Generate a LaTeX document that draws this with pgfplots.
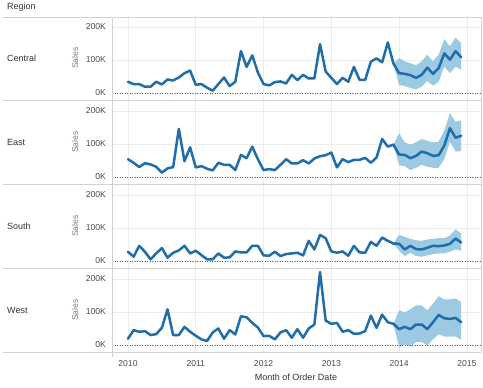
\documentclass[border=0pt]{standalone}
\usepackage{pgfplots}
\pgfplotsset{compat=1.18}
\usepackage{pgfplotstable}
\usepgfplotslibrary{fillbetween}
\usepackage{fontspec}
\setmainfont{Liberation Sans}
\definecolor{tblue}{HTML}{1F6DAB}
\definecolor{tband}{HTML}{9DCAE3}
\definecolor{gridc}{HTML}{ECECEC}
\definecolor{sepc}{HTML}{D2D2D2}
\definecolor{txt}{HTML}{333333}
\definecolor{tick}{HTML}{4A4A4A}

% actual monthly sales (K), month 0 = Jan 2010
\pgfplotstableread{
m s
0 34
1 27
2 27
3 19
4 19
5 34
6 26
7 41
8 38
9 47
10 60
11 68
12 25
13 27
14 16
15 7
16 27
17 47
18 21
19 34
20 127
21 79
22 114
23 62
24 27
25 23
26 33
27 35
28 29
29 55
30 39
31 55
32 44
33 44
34 148
35 65
36 46
37 27
38 46
39 34
40 79
41 40
42 40
43 95
44 105
45 93
46 153
47 89
}\central
\pgfplotstableread{
m f lo hi
47 89 89 89
48 60 24 106
49 58 21 96
50 54 15 90
51 46 11 84
52 55 19 96
53 77 36 116
54 58 22 96
55 75 34 116
56 120 80 163
57 101 60 142
58 127 80 168
59 108 70 150
}\centralf

\pgfplotstableread{
m s
0 54
1 43
2 30
3 42
4 38
5 31
6 13
7 26
8 30
9 146
10 48
11 90
12 29
13 33
14 25
15 20
16 43
17 37
18 37
19 21
20 67
21 57
22 92
23 54
24 21
25 24
26 21
27 37
28 54
29 41
30 41
31 51
32 41
33 56
34 63
35 66
36 74
37 29
38 54
39 45
40 52
41 52
42 58
43 43
44 59
45 115
46 92
47 98
}\east
\pgfplotstableread{
m f lo hi
47 98 98 98
48 68 35 133
49 67 33 105
50 57 21 98
51 64 28 105
52 77 37 115
53 72 31 110
54 64 28 105
55 66 28 107
56 95 54 141
57 148 107 193
58 119 77 167
59 125 79 172
}\eastf

\pgfplotstableread{
m s
0 28
1 13
2 46
3 28
4 5
5 23
6 39
7 10
8 25
9 32
10 46
11 23
12 31
13 18
14 5
15 5
16 23
17 10
18 11
19 29
20 26
21 26
22 46
23 46
24 17
25 16
26 28
27 15
28 21
29 23
30 25
31 17
32 61
33 35
34 79
35 69
36 29
37 25
38 29
39 16
40 46
41 26
42 25
43 58
44 46
45 71
46 61
47 53
}\south
\pgfplotstableread{
m f lo hi
47 53 53 53
48 52 31 80
49 35 15 73
50 46 25 67
51 36 15 63
52 35 13 61
53 40 17 65
54 46 21 67
55 45 23 69
56 47 23 69
57 52 28 77
58 68 35 96
59 56 31 83
}\southf

\pgfplotstableread{
m s
0 19
1 45
2 40
3 42
4 30
5 33
6 52
7 108
8 30
9 30
10 55
11 40
12 28
13 17
14 12
15 38
16 50
17 19
18 45
19 32
20 87
21 84
22 67
23 53
24 27
25 28
26 17
27 38
28 45
29 22
30 48
31 22
32 50
33 62
34 221
35 74
36 64
37 67
38 40
39 45
40 34
41 35
42 42
43 89
44 52
45 92
46 69
47 64
}\west
\pgfplotstableread{
m f lo hi
47 64 64 64
48 48 -8 105
49 55 2 99
50 48 -5 108
51 62 9 120
52 62 9 120
53 48 -1 105
54 69 17 125
55 91 33 148
56 81 26 138
57 79 25 138
58 82 26 141
59 69 15 130
}\westf

\tikzset{zero/.style={dotted, black!60, line width=0.5pt}}
\pgfplotsset{
  panel/.style={
    at={(112pt,#1)}, anchor=south west,
    scale only axis, width=369pt, height=84pt,
    xmin=-2.83, xmax=62.5, ymin=-21.2, ymax=233.3,
    axis line style={draw=none},
    major tick length=0pt,
    xtick={0,12,24,36,48,60},
    xticklabels={},
    ytick={0,100,200},
    yticklabels={0K,100K,200K},
    xmajorgrids, ymajorgrids,
    grid style={gridc, line width=0.6pt},
    /pgf/number format/assume math mode=true,
    yticklabel style={font=\fontsize{8.6}{9}\selectfont, text=tick, xshift=-2.5pt},
    xticklabel style={font=\fontsize{8.6}{9}\selectfont, text=tick, yshift=-5pt},
    clip=true,
  },
  act/.style={tblue, line width=2.5pt, line join=round, line cap=round},
}

\begin{document}
\begin{tikzpicture}[x=1pt,y=1pt]

% Central
\begin{axis}[panel=288pt]
\addplot[name path=cu, draw=none, forget plot] table[x=m,y=hi] {\centralf};
\addplot[name path=cd, draw=none, forget plot] table[x=m,y=lo] {\centralf};
\addplot[tband, draw=none, forget plot] fill between[of=cu and cd];
\draw[zero] (axis cs:-2.83,0) -- (axis cs:62.5,0);
\addplot[act] table[x=m,y=s] {\central};
\addplot[act] table[x=m,y=f] {\centralf};
\end{axis}

% East
\begin{axis}[panel=204pt]
\addplot[name path=eu, draw=none, forget plot] table[x=m,y=hi] {\eastf};
\addplot[name path=ed, draw=none, forget plot] table[x=m,y=lo] {\eastf};
\addplot[tband, draw=none, forget plot] fill between[of=eu and ed];
\draw[zero] (axis cs:-2.83,0) -- (axis cs:62.5,0);
\addplot[act] table[x=m,y=s] {\east};
\addplot[act] table[x=m,y=f] {\eastf};
\end{axis}

% South
\begin{axis}[panel=120pt]
\addplot[name path=su, draw=none, forget plot] table[x=m,y=hi] {\southf};
\addplot[name path=sd, draw=none, forget plot] table[x=m,y=lo] {\southf};
\addplot[tband, draw=none, forget plot] fill between[of=su and sd];
\draw[zero] (axis cs:-2.83,0) -- (axis cs:62.5,0);
\addplot[act] table[x=m,y=s] {\south};
\addplot[act] table[x=m,y=f] {\southf};
\end{axis}

% West
\begin{axis}[panel=36pt, xticklabels={2010,2011,2012,2013,2014,2015}]
\addplot[name path=wu, draw=none, forget plot] table[x=m,y=hi] {\westf};
\addplot[name path=wd, draw=none, forget plot] table[x=m,y=lo] {\westf};
\addplot[tband, draw=none, forget plot] fill between[of=wu and wd];
\draw[zero] (axis cs:-2.83,0) -- (axis cs:62.5,0);
\addplot[act] table[x=m,y=s] {\west};
\addplot[act] table[x=m,y=f] {\westf};
\end{axis}

% frame and separators
\foreach \yy in {371,288,204,120,36} {\draw[sepc, line width=0.7pt] (3,\yy) -- (481,\yy);}
\draw[sepc, line width=0.7pt] (112,371) -- (112,31);
\draw[sepc, line width=0.7pt] (481,371) -- (481,36);

% labels
\node[anchor=west, inner sep=0pt, font=\fontsize{9}{10}\selectfont, text=txt] at (7,381) {Region};
\foreach \yy/\nm in {330/Central,246/East,162/South,78/West}{
  \node[anchor=west, inner sep=0pt, font=\fontsize{9}{10}\selectfont, text=txt] at (7,\yy) {\nm};
  \node[rotate=90, font=\fontsize{8.6}{9}\selectfont, text=gray] at (75,\yy) {Sales};
}
\node[font=\fontsize{9}{10}\selectfont, text=txt] at (296,11) {Month of Order Date};

\pgfresetboundingbox
\useasboundingbox (0,0) rectangle (483,388);
\end{tikzpicture}
\end{document}
